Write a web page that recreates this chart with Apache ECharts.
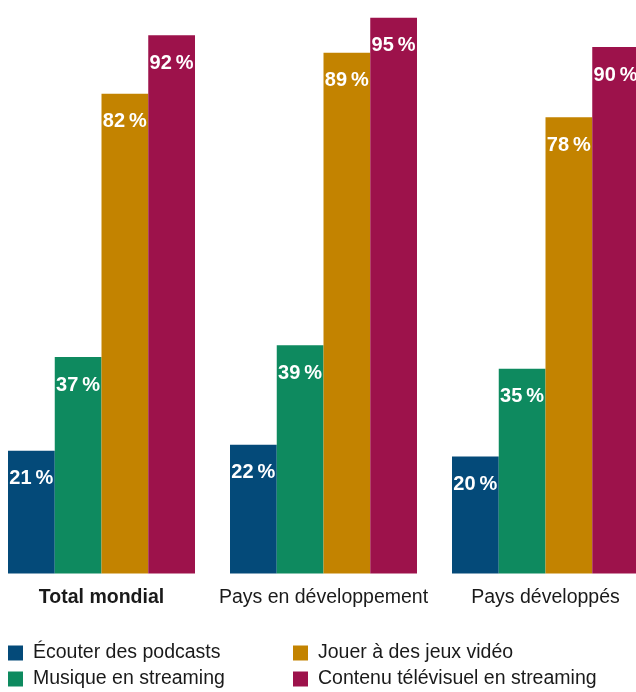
<!DOCTYPE html>
<html>
<head>
<meta charset="utf-8">
<script src="https://cdn.jsdelivr.net/npm/echarts@6/dist/echarts.min.js"></script>
<style>
  html, body { margin: 0; padding: 0; background: #ffffff; }
  #chart { width: 636px; height: 692px; }
</style>
</head>
<body>
<div id="chart"></div>
<script>
// Groups along the x axis
const categories = ['Total mondial', 'Pays en développement', 'Pays développés'];

// Share of respondents (%) per activity
const seriesNames = [
  'Écouter des podcasts',
  'Musique en streaming',
  'Jouer à des jeux vidéo',
  'Contenu télévisuel en streaming'
];
const podcasts = [21, 22, 20];
const musique = [37, 39, 35];
const jeux = [82, 89, 78];
const television = [92, 95, 90];

const colors = ['#044a79', '#0e8a5f', '#c38300', '#9d124b'];
const values = [podcasts, musique, jeux, television];

const chart = echarts.init(document.getElementById('chart'), null, { renderer: 'canvas' });

const textFont = '"Liberation Sans", Arial, sans-serif';

const series = seriesNames.map((name, i) => ({
  name,
  type: 'bar',
  data: values[i],
  barWidth: 46.75,
  barGap: '0%',
  itemStyle: { color: colors[i] },
  label: {
    show: true,
    position: 'insideTop',
    distance: 18,
    color: '#ffffff',
    fontFamily: '"Liberation Sans Narrow", "Liberation Sans", sans-serif',
    fontWeight: 'bold',
    fontSize: 20,
    formatter: p => p.value + '\u2009%'
  },
  emphasis: { disabled: true }
}));

const legendText = {
  fontFamily: textFont,
  fontSize: 19.5,
  color: '#1a1a1a',
  lineHeight: 20,
  padding: [0, 0, 0, 5]
};

const legendBase = {
  orient: 'vertical',
  top: 638,
  height: 60,
  itemWidth: 15,
  itemHeight: 15,
  itemGap: 6,
  icon: 'rect',
  selectedMode: false,
  textStyle: legendText
};

chart.setOption({
  animation: false,
  color: colors,
  grid: {
    left: -9.5,
    width: 666,
    top: 17.75,
    bottom: 118.5,
    containLabel: false,
    outerBoundsMode: 'none'
  },
  xAxis: {
    type: 'category',
    data: categories,
    axisLine: { show: false },
    axisTick: { show: false },
    axisLabel: {
      margin: 14,
      fontFamily: textFont,
      fontSize: 19.5,
      color: '#1a1a1a',
      interval: 0,
      formatter: (v, idx) => idx === 0 ? '{b|' + v + '}' : v,
      rich: {
        b: { fontFamily: textFont, fontSize: 19.5, fontWeight: 'bold', color: '#1a1a1a' }
      }
    }
  },
  yAxis: {
    type: 'value',
    min: 0,
    max: 95,
    show: false,
    splitLine: { show: false }
  },
  legend: [
    Object.assign({}, legendBase, { left: 3, data: [seriesNames[0], seriesNames[1]] }),
    Object.assign({}, legendBase, { left: 288, data: [seriesNames[2], seriesNames[3]] })
  ],
  series
});
</script>
</body>
</html>
